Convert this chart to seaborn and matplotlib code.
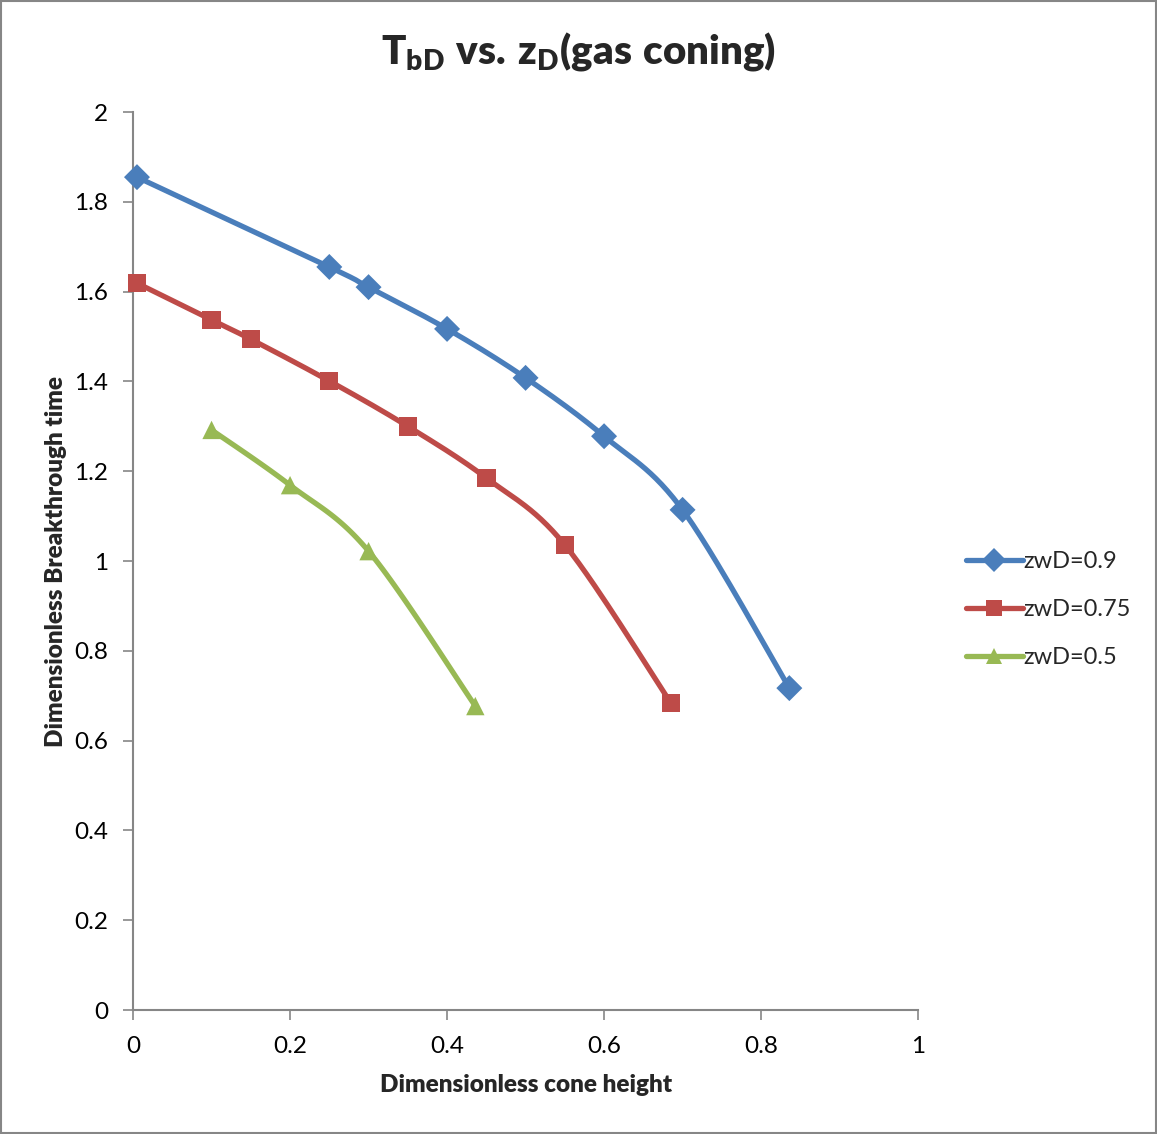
import numpy as np
import pandas as pd
import matplotlib
matplotlib.use("Agg")
import matplotlib.pyplot as plt
from matplotlib.lines import Line2D
from matplotlib.patches import Rectangle
import seaborn as sns

# Breakthrough-time data for three dimensionless well penetrations
x_zwd09 = [0.005, 0.25, 0.30, 0.40, 0.50, 0.60, 0.70, 0.836]
y_zwd09 = [1.855, 1.655, 1.610, 1.517, 1.408, 1.278, 1.114, 0.717]

x_zwd075 = [0.005, 0.10, 0.15, 0.25, 0.35, 0.45, 0.55, 0.685]
y_zwd075 = [1.619, 1.537, 1.494, 1.401, 1.300, 1.185, 1.036, 0.684]

x_zwd05 = [0.10, 0.20, 0.30, 0.436]
y_zwd05 = [1.292, 1.169, 1.022, 0.677]

series_names = ["zwD=0.9", "zwD=0.75", "zwD=0.5"]
series_colors = ["#4A7EBB", "#BE4B48", "#98B954"]
series_markers = ["D", "s", "^"]

x_ticks = [0, 0.2, 0.4, 0.6, 0.8, 1]
x_tick_labels = ["0", "0.2", "0.4", "0.6", "0.8", "1"]
y_ticks = [0, 0.2, 0.4, 0.6, 0.8, 1, 1.2, 1.4, 1.6, 1.8, 2]
y_tick_labels = ["0", "0.2", "0.4", "0.6", "0.8", "1", "1.2", "1.4", "1.6", "1.8", "2"]

points = pd.concat([
    pd.DataFrame({"x": xs, "y": ys, "series": name})
    for xs, ys, name in zip([x_zwd09, x_zwd075, x_zwd05],
                            [y_zwd09, y_zwd075, y_zwd05], series_names)
], ignore_index=True)


def smooth_curve(xs, ys, sx=785.0, sy=449.0, n=30):
    """Bezier smoothing through the points (Catmull-Rom style control points),
    computed in screen-proportional units so the bends look even."""
    p = np.column_stack([np.asarray(xs) * sx, np.asarray(ys) * sy])
    ext = np.vstack([p[0], p, p[-1]])
    out = []
    t = np.linspace(0, 1, n)[:, None]
    for i in range(len(p) - 1):
        p0, p1, p2, p3 = ext[i], ext[i + 1], ext[i + 2], ext[i + 3]
        c1 = p1 + (p2 - p0) / 6.0
        c2 = p2 - (p3 - p1) / 6.0
        seg = ((1 - t) ** 3) * p1 + 3 * ((1 - t) ** 2) * t * c1 \
            + 3 * (1 - t) * t ** 2 * c2 + t ** 3 * p2
        out.append(seg if i == 0 else seg[1:])
    out = np.vstack(out)
    return out[:, 0] / sx, out[:, 1] / sy


curves = []
for name, grp in points.groupby("series", sort=False):
    cx, cy = smooth_curve(grp["x"].values, grp["y"].values)
    curves.append(pd.DataFrame({"x": cx, "y": cy, "series": name}))
curves = pd.concat(curves, ignore_index=True)

sns.set_theme(style="white")
plt.rcParams["font.family"] = ["Lato", "DejaVu Sans"]
plt.rcParams["mathtext.fontset"] = "custom"
plt.rcParams["mathtext.rm"] = "Lato:weight=heavy"
plt.rcParams["mathtext.bf"] = "Lato:weight=heavy"
plt.rcParams["mathtext.it"] = "Lato:weight=heavy"

fig = plt.figure(figsize=(11.57, 11.34), dpi=100)
ax = fig.add_axes([0.115, 0.1093, 0.6785, 0.7919])

palette = dict(zip(series_names, series_colors))
markers = dict(zip(series_names, series_markers))

sns.lineplot(data=curves, x="x", y="y", hue="series", palette=palette,
             sort=False, estimator=None, units="series", legend=False,
             linewidth=3.8, ax=ax)
sns.scatterplot(data=points, x="x", y="y", hue="series", style="series",
                palette=palette, markers=markers, s=175, linewidth=0,
                legend=False, ax=ax, zorder=3, clip_on=False)

ax.set_xlim(0, 1)
ax.set_ylim(0, 2)
ax.set_xticks(x_ticks)
ax.set_xticklabels(x_tick_labels)
ax.set_yticks(y_ticks)
ax.set_yticklabels(y_tick_labels)
ax.tick_params(axis="both", which="major", direction="out", length=7,
               width=1.2, color="#868686", labelsize=17.5, labelcolor="black",
               bottom=True, left=True)
ax.tick_params(axis="x", pad=12)
ax.tick_params(axis="y", pad=11)
for side in ["top", "right"]:
    ax.spines[side].set_visible(False)
for side in ["left", "bottom"]:
    ax.spines[side].set_color("#868686")
    ax.spines[side].set_linewidth(1.5)
ax.grid(False)

ax.set_xlabel("Dimensionless cone height", fontsize=17.5, fontweight="heavy",
              labelpad=12)
ax.set_ylabel("Dimensionless Breakthrough time", fontsize=17.5,
              fontweight="heavy", labelpad=5)

fig.text(0.5, 0.955, r"$\mathrm{T_{bD}\ vs.\!\ z_D(gas\ coning)}$",
         ha="center", va="center", fontsize=29)

handles = [Line2D([0], [0], color=c, lw=3.8, marker=m, markersize=12,
                  markeredgewidth=0)
           for c, m in zip(series_colors, series_markers)]
fig.legend(handles, series_names, loc="center left",
           bbox_to_anchor=(0.8165, 0.4625), frameon=False, fontsize=17,
           handlelength=2.4, handletextpad=0.05, labelspacing=1.15)

fig.add_artist(Rectangle((0.0005, 0.0005), 0.999, 0.999,
                         transform=fig.transFigure, fill=False,
                         edgecolor="#868686", linewidth=1.5))

fig.savefig("out.png", dpi=100)
